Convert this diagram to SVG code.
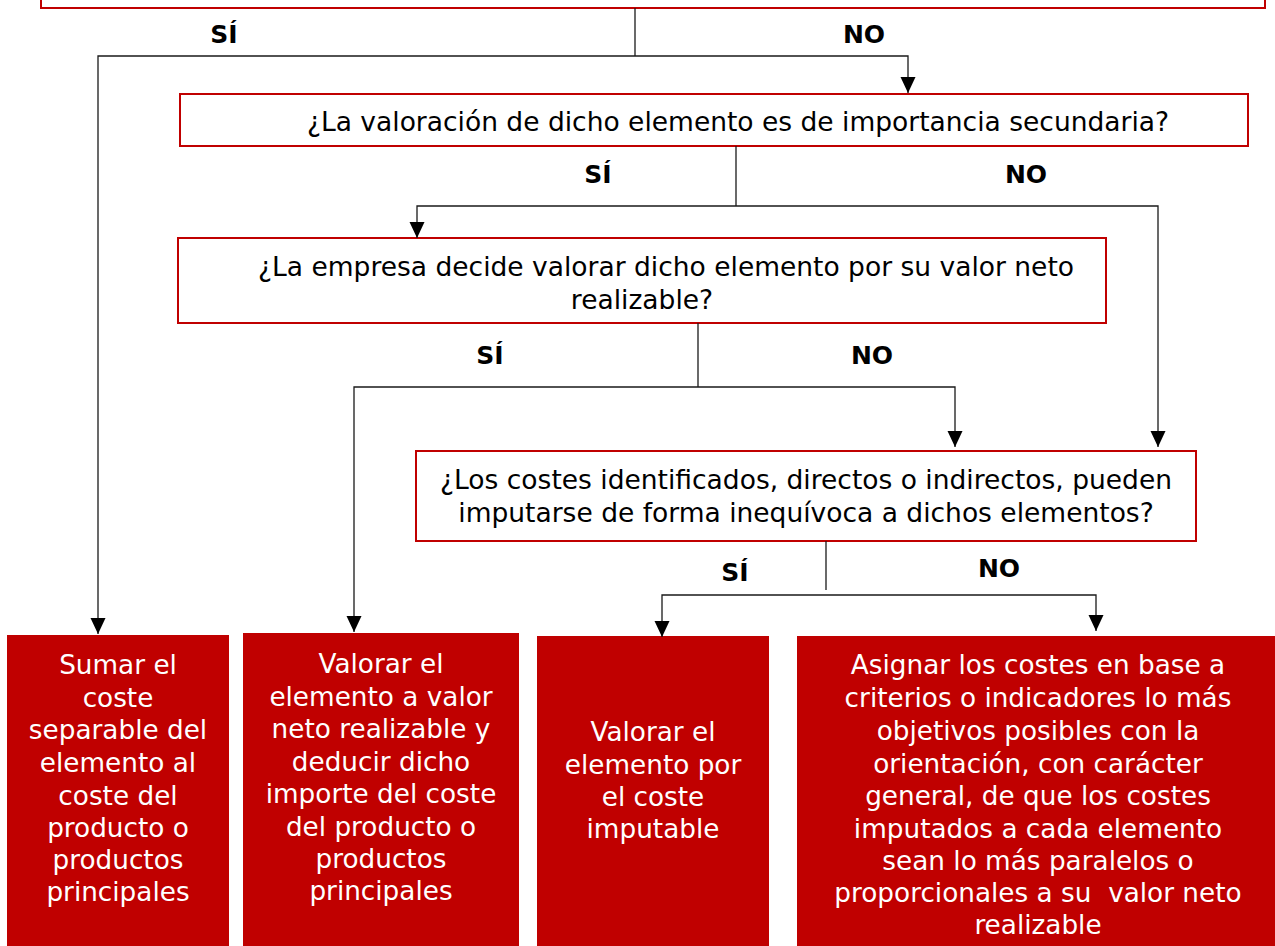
<svg xmlns="http://www.w3.org/2000/svg" width="1275" height="946" viewBox="0 0 1275 946">
<defs>
<marker id="arr" markerUnits="userSpaceOnUse" markerWidth="16" markerHeight="16" refX="16" refY="7.5" orient="auto">
<path d="M0,0 L16,7.5 L0,15 z" fill="#000"/>
</marker>
<style>
.q{fill:#fff;stroke:#c00000;stroke-width:2}
.a{fill:#c00000;stroke:none}
.t{font-family:"DejaVu Sans","Verdana",sans-serif;font-size:26.5px;text-anchor:middle;fill:#000}
.w{font-family:"DejaVu Sans","Verdana",sans-serif;font-size:26.3px;text-anchor:middle;fill:#fff}
.l{font-family:"DejaVu Sans","Verdana",sans-serif;font-size:25px;font-weight:bold;text-anchor:middle;fill:#000}
.c{fill:none;stroke:#1a1a1a;stroke-width:1.3}
</style>
</defs>
<rect width="1275" height="946" fill="#fff"/>
<g id="q1"><rect class="q" x="41" y="-20" width="1224" height="28"/></g>
<g id="q2"><rect class="q" x="180" y="94" width="1068" height="52"/>
<text class="t" x="738" y="131">¿La valoración de dicho elemento es de importancia secundaria?</text></g>
<g id="q3"><rect class="q" x="178" y="238" width="928" height="85"/>
<text class="t" x="666" y="276">¿La empresa decide valorar dicho elemento por su valor neto</text>
<text class="t" x="642" y="309">realizable?</text></g>
<g id="q4"><rect class="q" x="416" y="451" width="780" height="90"/>
<text class="t" x="806" y="489">¿Los costes identificados, directos o indirectos, pueden</text>
<text class="t" x="806" y="522">imputarse de forma inequívoca a dichos elementos?</text></g>
<g id="r1"><rect class="a" x="7" y="635" width="222" height="311"/>
<text class="w" x="118"><tspan x="118" y="674">Sumar el</tspan><tspan x="118" y="707">coste</tspan><tspan x="118" y="739">separable del</tspan><tspan x="118" y="772">elemento al</tspan><tspan x="118" y="805">coste del</tspan><tspan x="118" y="837">producto o</tspan><tspan x="118" y="869">productos</tspan><tspan x="118" y="901">principales</tspan></text></g>
<g id="r2"><rect class="a" x="243" y="633" width="276" height="313"/>
<text class="w" x="381"><tspan x="381" y="673">Valorar el</tspan><tspan x="381" y="706">elemento a valor</tspan><tspan x="381" y="738">neto realizable y</tspan><tspan x="381" y="771">deducir dicho</tspan><tspan x="381" y="803">importe del coste</tspan><tspan x="381" y="836">del producto o</tspan><tspan x="381" y="868">productos</tspan><tspan x="381" y="900">principales</tspan></text></g>
<g id="r3"><rect class="a" x="537" y="636" width="232" height="310"/>
<text class="w" x="653"><tspan x="653" y="741">Valorar el</tspan><tspan x="653" y="774">elemento por</tspan><tspan x="653" y="806">el coste</tspan><tspan x="653" y="838">imputable</tspan></text></g>
<g id="r4"><rect class="a" x="797" y="636" width="478" height="310"/>
<text class="w" x="1038"><tspan x="1038" y="674">Asignar los costes en base a</tspan><tspan x="1038" y="707">criterios o indicadores lo más</tspan><tspan x="1038" y="740">objetivos posibles con la</tspan><tspan x="1038" y="773">orientación, con carácter</tspan><tspan x="1038" y="805">general, de que los costes</tspan><tspan x="1038" y="838">imputados a cada elemento</tspan><tspan x="1038" y="870">sean lo más paralelos o</tspan><tspan x="1038" y="902" style="white-space:pre">proporcionales a su  valor neto</tspan><tspan x="1038" y="934">realizable</tspan></text></g>
<g id="connectors">
<path class="c" d="M635,8 V56"/>
<path class="c" d="M635,56 H98 V634" marker-end="url(#arr)"/>
<path class="c" d="M635,56 H908 V93" marker-end="url(#arr)"/>
<path class="c" d="M736,146 V206"/>
<path class="c" d="M736,206 H417 V238" marker-end="url(#arr)"/>
<path class="c" d="M736,206 H1158 V447" marker-end="url(#arr)"/>
<path class="c" d="M698,323 V387"/>
<path class="c" d="M698,387 H354 V632" marker-end="url(#arr)"/>
<path class="c" d="M698,387 H955 V447" marker-end="url(#arr)"/>
<path class="c" d="M826,541 V590"/>
<path class="c" d="M826,595 H662 V637" marker-end="url(#arr)"/>
<path class="c" d="M826,595 H1096 V631" marker-end="url(#arr)"/>
<text class="l" x="224" y="43">SÍ</text>
<text class="l" x="864" y="43">NO</text>
<text class="l" x="598" y="183">SÍ</text>
<text class="l" x="1026" y="183">NO</text>
<text class="l" x="490" y="364">SÍ</text>
<text class="l" x="872" y="364">NO</text>
<text class="l" x="735" y="581">SÍ</text>
<text class="l" x="999" y="577">NO</text>
</g>
</svg>
